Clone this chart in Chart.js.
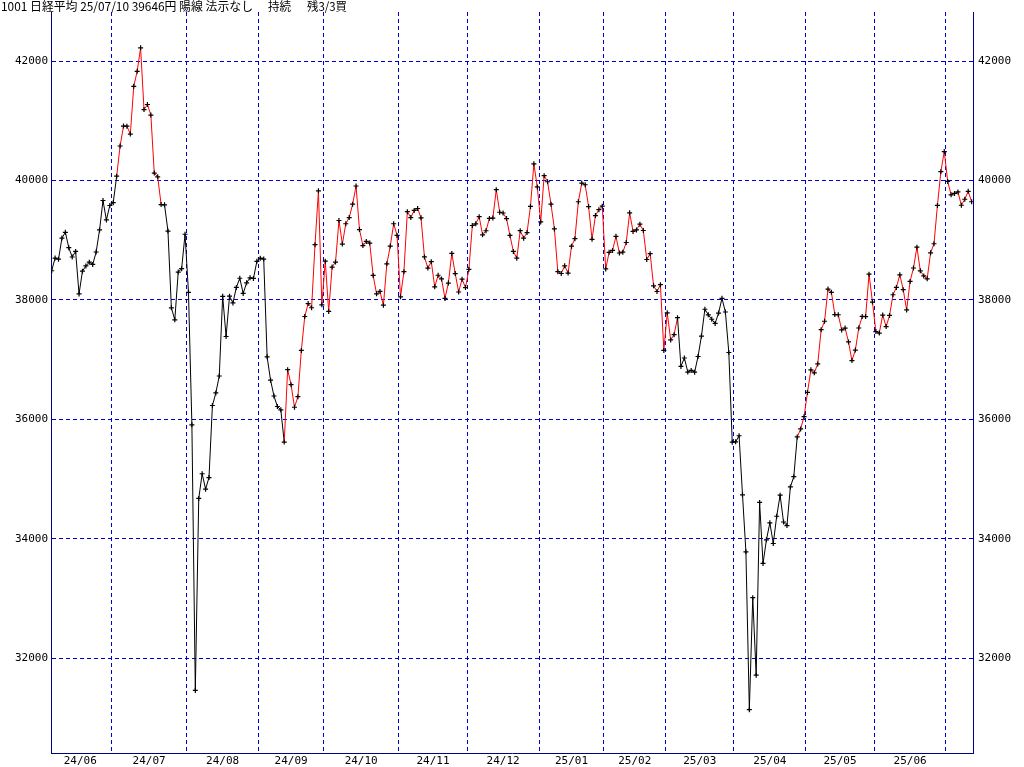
<!DOCTYPE html>
<html>
<head>
<meta charset="utf-8">
<title>1001 日経平均</title>
<script src="https://cdn.jsdelivr.net/npm/chart.js@4/dist/chart.umd.min.js"></script>
<style>
  html, body { margin: 0; padding: 0; background: #fff; }
  canvas { display: block; }
</style>
</head>
<body>
<canvas id="lineChart" width="1024" height="767"></canvas>
<script>
// 日経平均 終値, 2024/06/05 - 2025/07/10, one array per month
const jun24 = [38490, 38703, 38683, 39038, 39134, 38876, 38720, 38814, 38102, 38482, 38570, 38633, 38596, 38804, 39173, 39667, 39341, 39583];
const jul24 = [39631, 40074, 40580, 40913, 40912, 40780, 41580, 41831, 42224, 41190, 41275, 41098, 40126, 40063, 39599, 39594, 39154, 37869, 37667, 38468, 38525, 39101];
const aug24 = [38126, 35909, 31458, 34675, 35089, 34831, 35025, 36232, 36442, 36726, 38062, 37388, 38063, 37951, 38211, 38364, 38110, 38288, 38371, 38362, 38647];
const sep24 = [38700, 38686, 37047, 36657, 36391, 36215, 36159, 35619, 36833, 36581, 36203, 36380, 37155, 37723, 37940, 37870, 38926, 39829, 37919];
const oct24 = [38651, 37808, 38552, 38635, 39332, 38937, 39277, 39380, 39605, 39910, 39180, 38911, 38981, 38954, 38411, 38104, 38143, 37913, 38605, 38903, 39277, 39081];
const nov24 = [38053, 38474, 39480, 39381, 39500, 39533, 39376, 38721, 38535, 38642, 38220, 38414, 38352, 38026, 38283, 38780, 38442, 38134, 38349, 38208];
const dec24 = [38513, 39248, 39276, 39395, 39091, 39160, 39367, 39372, 39849, 39470, 39457, 39364, 39081, 38813, 38701, 39161, 39036, 39130, 39568, 40281, 39894];
const jan25 = [39307, 40083, 39981, 39605, 39190, 38474, 38444, 38572, 38451, 38902, 39027, 39646, 39958, 39931, 39565, 39016, 39414, 39513, 39572];
const feb25 = [38520, 38798, 38831, 39066, 38787, 38801, 38963, 39461, 39149, 39174, 39270, 39164, 38678, 38776, 38237, 38142, 38256, 37155];
const mar25 = [37785, 37331, 37418, 37704, 36887, 37028, 36793, 36819, 36790, 37053, 37396, 37845, 37751, 37677, 37608, 37780, 38027, 37799, 37120, 35617];
const apr25 = [35624, 35725, 34735, 33780, 31136, 33012, 31714, 34609, 33586, 33982, 34267, 33920, 34377, 34730, 34280, 34220, 34868, 35039, 35705, 35839, 36045];
const may25 = [36452, 36830, 36780, 36928, 37503, 37644, 38183, 38128, 37755, 37753, 37498, 37529, 37298, 36985, 37160, 37531, 37724, 37722, 38432, 37965];
const jun25 = [37470, 37446, 37747, 37554, 37741, 38088, 38211, 38421, 38173, 37834, 38311, 38536, 38885, 38488, 38403, 38354, 38790, 38942, 39585, 40150, 40487];
const jul25 = [39986, 39762, 39786, 39810, 39587, 39688, 39821, 39646];

const months = [jun24, jul24, aug24, sep24, oct24, nov24, dec24, jan25, feb25, mar25, apr25, may25, jun25, jul25];
const monthLabels = ['24/06', '24/07', '24/08', '24/09', '24/10', '24/11', '24/12', '25/01', '25/02', '25/03', '25/04', '25/05', '25/06'];
const yTicks = [32000, 34000, 36000, 38000, 40000, 42000];

// day ranges (index into the series) where the line is drawn red
const redRuns = [[19, 31], [68, 182], [218, 269]];

const titleMain = '1001 日経平均 25/07/10 39646円 陽線 法示なし';
const titleState = '持続';
const titleLeft = '残3/3買';

// build points + month boundaries
const closes = months.flat();
const points = closes.map((v, i) => ({ x: i, y: v }));

const bounds = [];
let n = 0;
months.forEach((m, k) => {
  n += m.length;
  if (k < months.length - 1) bounds.push(n - 0.5);
});
const labelPos = new Map();
monthLabels.forEach((lab, k) => {
  const a = k === 0 ? -0.8 : bounds[k - 1];
  const b = bounds[k];
  labelPos.set((a + b) / 2, lab);
});
const boundSet = new Set(bounds);
const xTickValues = [...bounds, ...labelPos.keys()].sort((a, b) => a - b);

const isRed = i => redRuns.some(r => i >= r[0] && i <= r[1]);

const tickFont = { family: "'DejaVu Sans Mono', monospace", size: 11 };
const navy = '#000080';
const gridBlue = '#0000cc';

const titlePlugin = {
  id: 'topText',
  afterDraw(chart) {
    const c = chart.ctx;
    c.save();
    c.fillStyle = '#000';
    c.font = "12px 'Noto Sans CJK JP', sans-serif";
    c.textBaseline = 'alphabetic';
    c.textAlign = 'left';
    c.fillText(titleMain, 1, 11, 252);
    c.fillText(titleState, 268, 11, 23);
    c.fillText(titleLeft, 307, 11, 40);
    c.restore();
  }
};

const ctx = document.getElementById('lineChart');
let lineChart = new Chart(ctx, { // eslint-disable-line
  type: 'line',
  data: {
    datasets: [{
      data: points,
      xAxisID: 'x',
      yAxisID: 'y',
      borderColor: '#000',
      borderWidth: 1,
      tension: 0,
      fill: false,
      pointStyle: 'cross',
      pointRadius: 2.5,
      pointHoverRadius: 2.5,
      pointBorderColor: '#000',
      pointBorderWidth: 1.2,
      segment: {
        borderColor: c => isRed(c.p0DataIndex) ? '#ff0000' : '#000000'
      }
    }]
  },
  options: {
    responsive: false,
    animation: false,
    events: [],
    layout: { padding: { top: 12, left: 0, right: 0, bottom: 0 } },
    plugins: { legend: { display: false }, tooltip: { enabled: false } },
    scales: {
      x: {
        type: 'linear',
        min: -0.2,
        max: 269.4,
        afterBuildTicks: axis => { axis.ticks = xTickValues.map(v => ({ value: v })); },
        afterFit: axis => { axis.height = 14; },
        grid: {
          color: c => (c.tick && boundSet.has(c.tick.value)) ? gridBlue : 'rgba(0,0,0,0)',
          lineWidth: 1,
          drawTicks: false
        },
        border: { display: true, color: navy, width: 1, dash: [4, 3] },
        ticks: {
          autoSkip: false,
          maxRotation: 0,
          padding: 2,
          color: '#000',
          font: tickFont,
          callback: v => labelPos.get(v) || ''
        }
      },
      y: {
        position: 'left',
        min: 30410,
        max: 42825,
        afterBuildTicks: axis => { axis.ticks = yTicks.map(v => ({ value: v })); },
        afterFit: axis => { axis.width = 51; },
        grid: { color: gridBlue, lineWidth: 1, drawTicks: false },
        border: { display: true, color: navy, width: 1, dash: [4, 3] },
        ticks: { padding: 3, color: '#000', font: tickFont, callback: v => String(v) }
      },
      y2: {
        position: 'right',
        min: 30410,
        max: 42825,
        afterBuildTicks: axis => { axis.ticks = yTicks.map(v => ({ value: v })); },
        afterFit: axis => { axis.width = 51; },
        grid: { display: false, drawTicks: false },
        border: { display: true, color: navy, width: 1 },
        ticks: { padding: 5, color: '#000', font: tickFont, callback: v => String(v) }
      }
    }
  },
  plugins: [titlePlugin]
});
</script>
</body>
</html>
